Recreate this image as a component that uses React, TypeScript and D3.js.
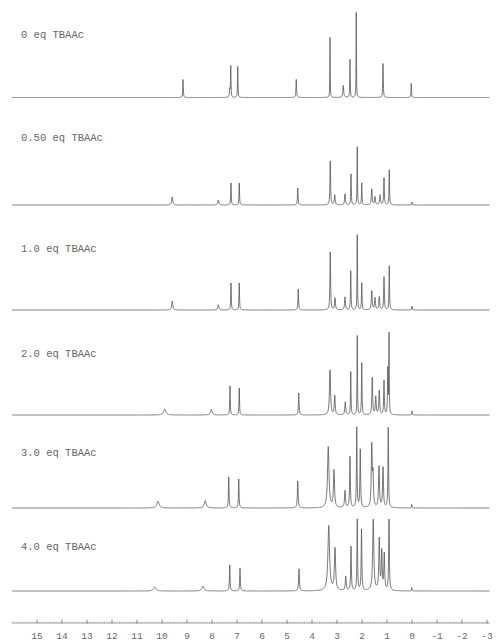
import * as d3 from "d3";

// stacked 1H NMR titration, peaks (ppm, intensity, half width in ppm)
const eqLabels = ["0 eq TBAAc", "0.50 eq TBAAc", "1.0 eq TBAAc", "2.0 eq TBAAc", "3.0 eq TBAAc", "4.0 eq TBAAc"];

const eq0Shift = [9.16, 7.29, 7.25, 6.97, 4.63, 3.28, 2.75, 2.48, 2.23, 1.16, 0.03];
const eq0Int = [18, 8, 31, 31, 18, 60, 12, 38, 85, 34, 14];
const eq0Width = [0.012, 0.015, 0.01, 0.01, 0.014, 0.008, 0.02, 0.01, 0.008, 0.012, 0.01];

const eq05Shift = [9.59, 7.75, 7.24, 6.91, 4.57, 3.27, 3.09, 2.68, 2.44, 2.19, 2.01, 1.61, 1.48, 1.28, 1.12, 0.91, 0.0];
const eq05Int = [8, 5, 22, 22, 17, 44, 10, 11, 31, 58, 22, 16, 8, 10, 27, 35, 3];
const eq05Width = [0.025, 0.025, 0.012, 0.012, 0.014, 0.015, 0.02, 0.02, 0.012, 0.01, 0.012, 0.02, 0.02, 0.02, 0.015, 0.012, 0.01];

const eq10Shift = [9.59, 7.75, 7.24, 6.91, 4.55, 3.27, 3.08, 2.68, 2.45, 2.19, 2.01, 1.61, 1.48, 1.31, 1.12, 0.91, 0.0];
const eq10Int = [9, 5.3, 27, 27, 21, 58, 12, 13, 39, 75, 27, 19, 12, 13, 33, 44, 4];
const eq10Width = [0.025, 0.025, 0.012, 0.012, 0.014, 0.015, 0.02, 0.02, 0.012, 0.01, 0.012, 0.02, 0.02, 0.02, 0.015, 0.012, 0.01];

const eq20Shift = [9.89, 8.03, 7.28, 6.91, 4.53, 3.28, 3.09, 2.67, 2.45, 2.19, 2.01, 1.59, 1.45, 1.31, 1.12, 0.97, 0.92, 0.0];
const eq20Int = [6, 5.7, 29, 27, 22, 45, 19, 13, 43, 79, 52, 37, 18, 24, 34, 45, 80, 4];
const eq20Width = [0.05, 0.04, 0.012, 0.012, 0.015, 0.025, 0.02, 0.02, 0.012, 0.01, 0.012, 0.018, 0.02, 0.02, 0.015, 0.012, 0.01, 0.01];

const eq30Shift = [10.16, 8.27, 7.33, 6.93, 4.57, 3.35, 3.12, 2.68, 2.48, 2.21, 2.07, 1.61, 1.56, 1.32, 1.16, 0.95, 0.01];
const eq30Int = [6.7, 7.3, 31, 29, 27, 61, 37, 17, 51, 80, 58, 61, 30, 41, 40, 80, 3.5];
const eq30Width = [0.055, 0.045, 0.014, 0.014, 0.018, 0.035, 0.025, 0.022, 0.016, 0.014, 0.016, 0.022, 0.02, 0.022, 0.02, 0.014, 0.01];

const eq40Shift = [10.29, 8.36, 7.29, 6.88, 4.52, 3.33, 3.08, 2.65, 2.44, 2.19, 2.02, 1.55, 1.31, 1.21, 1.11, 0.92, 0.01];
const eq40Int = [4, 5, 26, 23, 22, 65, 42, 14, 44, 71, 61, 71, 51, 38, 36, 71, 3.3];
const eq40Width = [0.06, 0.05, 0.014, 0.014, 0.018, 0.04, 0.028, 0.022, 0.016, 0.014, 0.016, 0.028, 0.022, 0.02, 0.02, 0.016, 0.01];

const axisTicks = [15, 14, 13, 12, 11, 10, 9, 8, 7, 6, 5, 4, 3, 2, 1, 0, -1, -2, -3];

const spectra = [
  { shift: eq0Shift, int: eq0Int, width: eq0Width },
  { shift: eq05Shift, int: eq05Int, width: eq05Width },
  { shift: eq10Shift, int: eq10Int, width: eq10Width },
  { shift: eq20Shift, int: eq20Int, width: eq20Width },
  { shift: eq30Shift, int: eq30Int, width: eq30Width },
  { shift: eq40Shift, int: eq40Int, width: eq40Width },
];

// layout
const W = 496;
const H = 643;
const baselines = [97.5, 205, 310, 415, 508, 591];
const labelY = [38, 141, 252, 357, 456, 550];
const axisY = 623;

export default function App() {
  const x = d3.scaleLinear().domain([16, -3.1]).range([12, 489.5]);
  const y = d3.scaleLinear().domain([0, 100]).range([0, 100]);

  const grid = d3.range(-310, 1601).map((i) => i / 100);

  const paths = spectra.map((s, k) => {
    const pts = grid.concat(s.shift).sort((a, b) => b - a);
    const vals = pts.map((p) => {
      let v = 0;
      for (let i = 0; i < s.shift.length; i++) {
        const d = (p - s.shift[i]) / s.width[i];
        v += s.int[i] / (1 + d * d);
      }
      return [p, v] as [number, number];
    });
    const line = d3
      .line<[number, number]>()
      .x((d) => x(d[0]))
      .y((d) => baselines[k] - y(d[1]));
    return line(vals) ?? "";
  });

  const minor = d3.range(-31, 161).map((i) => i / 10);

  return (
    <svg
      width={W}
      height={H}
      style={{ position: "absolute", left: 0, top: 0, background: "#fff" }}
    >
      {paths.map((d, i) => (
        <path key={i} d={d} fill="none" stroke="#555" strokeWidth={0.8} />
      ))}
      {eqLabels.map((t, i) => (
        <text
          key={t}
          x={21}
          y={labelY[i]}
          fontFamily="Liberation Mono, monospace"
          fontSize={10.5}
          fill="#666"
        >
          {t}
        </text>
      ))}
      <g>
        <line x1={x(16)} x2={x(-3.1)} y1={axisY} y2={axisY} stroke="#888" strokeWidth={0.8} />
        {minor.map((m) => (
          <line key={m} x1={x(m)} x2={x(m)} y1={axisY - 1.5} y2={axisY} stroke="#999" strokeWidth={0.5} />
        ))}
        {axisTicks.map((t) => (
          <g key={t}>
            <line x1={x(t)} x2={x(t)} y1={axisY - 3.5} y2={axisY + 0.5} stroke="#777" strokeWidth={0.8} />
            <text
              x={x(t)}
              y={axisY + 16}
              textAnchor="middle"
              fontFamily="Liberation Mono, monospace"
              fontSize={9.5}
              fill="#666"
            >
              {t < 0 ? `-${-t}` : t}
            </text>
          </g>
        ))}
      </g>
    </svg>
  );
}
